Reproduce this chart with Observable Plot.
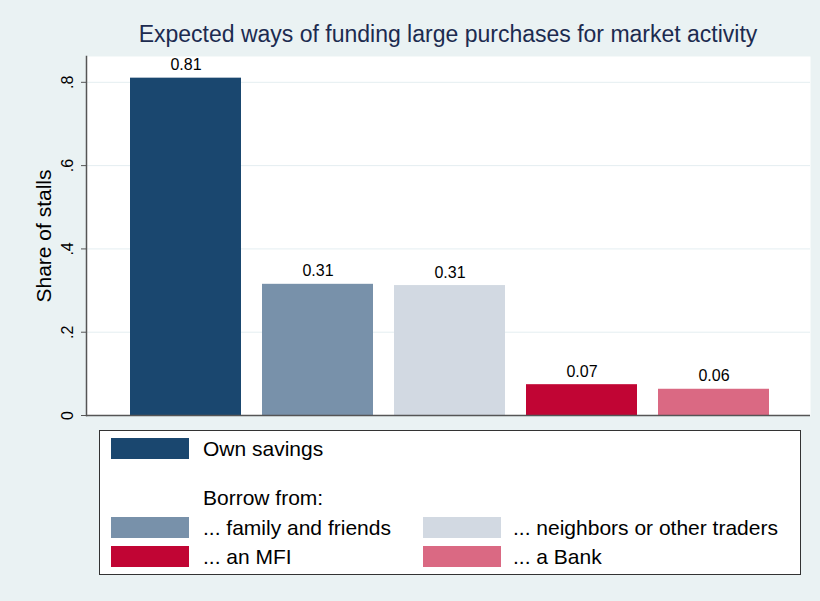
<!DOCTYPE html>
<html>
<head>
<meta charset="utf-8">
<script src="https://cdn.jsdelivr.net/npm/d3@7"></script>
<script src="https://cdn.jsdelivr.net/npm/@observablehq/plot@0.6"></script>
<style>
  html, body { margin: 0; padding: 0; background: #eaf2f3; }
  body { width: 820px; height: 601px; position: relative; overflow: hidden; font-family: "Liberation Sans", Arial, sans-serif; }
  #title { position: absolute; left: 86px; width: 724px; top: 19px; text-align: center; font-size: 23px; color: #1c2b50; line-height: 30px; }
  #chart { position: absolute; left: 0; top: 50px; }
  #legend { position: absolute; left: 99px; top: 430px; width: 700px; height: 143px; background: #fff; border: 1px solid #333; }
  .sw { position: absolute; width: 78px; height: 21px; }
  .lt { position: absolute; font-size: 21px; line-height: 22px; color: #000; white-space: nowrap; }
</style>
</head>
<body>
<div id="title"></div>
<div id="chart"></div>
<div id="legend"></div>
<script>
const titleText = "Expected ways of funding large purchases for market activity";
const yLabel = "Share of stalls";
const categories = ["Own savings", "... family and friends", "... neighbors or other traders", "... an MFI", "... a Bank"];
const values = [0.81, 0.315, 0.312, 0.074, 0.063];
const valueLabels = ["0.81", "0.31", "0.31", "0.07", "0.06"];
const colors = ["#1a476f", "#7891aa", "#d2d9e2", "#c10534", "#da6983"];
const yTicks = [0, 0.2, 0.4, 0.6, 0.8];
const yTickLabels = ["0", ".2", ".4", ".6", ".8"];
const legendHeading = "Borrow from:";

const data = categories.map((c, i) => ({category: c, value: values[i], label: valueLabels[i]}));
const tickData = yTicks.map((t, i) => ({t, label: yTickLabels[i]}));

document.getElementById("title").textContent = titleText;

const chart = Plot.plot({
  width: 820,
  height: 380,
  marginTop: 6,
  marginBottom: 15,
  marginLeft: 86,
  marginRight: 10,
  style: {background: "transparent", fontFamily: "Liberation Sans, Arial, sans-serif"},
  x: {domain: categories, paddingInner: 0.16, paddingOuter: 0.32, align: 0.52, axis: null},
  y: {domain: [0, 0.862], axis: null},
  color: {domain: categories, range: colors},
  marks: [
    Plot.frame({fill: "white", stroke: null}),
    Plot.gridY(yTicks.slice(1), {stroke: "#e4eef1", strokeOpacity: 1, strokeWidth: 1}),
    Plot.barY(data, {x: "category", y: "value", fill: "category"}),
    Plot.text(data, {x: "category", y: "value", text: "label", lineAnchor: "bottom", dy: -8, fontSize: 16, fill: "#000"}),
    Plot.ruleY([0], {stroke: "#555", strokeWidth: 1.5}),
    Plot.frame({anchor: "left", stroke: "#555", strokeWidth: 1.5}),
    Plot.axisY({ticks: yTicks, tickSize: 5, tickFormat: () => "", stroke: "#555", label: null}),
    Plot.text(tickData, {y: "t", text: "label", frameAnchor: "left", dx: -19, rotate: -90, textAnchor: "middle", lineAnchor: "middle", fontSize: 16, fill: "#000"}),
    Plot.text([yLabel], {frameAnchor: "left", dx: -42, dy: 0, rotate: -90, textAnchor: "middle", lineAnchor: "middle", fontSize: 21, fill: "#000"})
  ]
});
document.getElementById("chart").appendChild(chart);

// Legend
const legend = document.getElementById("legend");
function addSwatch(i, left, top) {
  const s = document.createElement("div");
  s.className = "sw";
  s.style.left = left + "px";
  s.style.top = top + "px";
  s.style.background = colors[i];
  legend.appendChild(s);
}
function addText(txt, left, centerY) {
  const t = document.createElement("div");
  t.className = "lt";
  t.style.left = left + "px";
  t.style.top = (centerY - 11) + "px";
  t.textContent = txt;
  legend.appendChild(t);
}
addSwatch(0, 11, 7); addText(categories[0], 103, 18);
addText(legendHeading, 103, 67);
addSwatch(1, 11, 86); addText(categories[1], 103, 97);
addSwatch(2, 323, 86); addText(categories[2], 413, 97);
addSwatch(3, 11, 115); addText(categories[3], 103, 126);
addSwatch(4, 323, 115); addText(categories[4], 413, 126);
</script>
</body>
</html>
